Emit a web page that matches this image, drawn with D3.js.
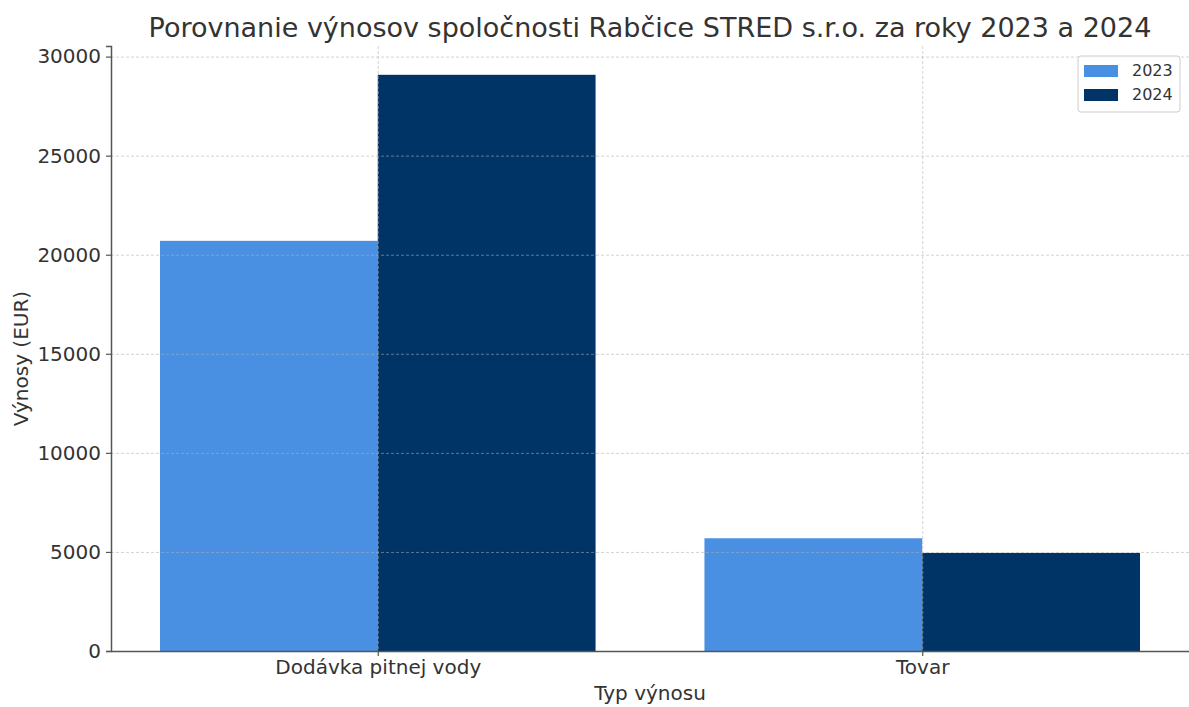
<!DOCTYPE html>
<html>
<head>
<meta charset="utf-8">
<script src="https://cdn.jsdelivr.net/npm/d3@7"></script>
<style>
  body { margin: 0; background: #fff; }
  text { font-family: "DejaVu Sans", sans-serif; fill: #333; }
</style>
</head>
<body>
<div id="chart"></div>
<script>
// data
const categories = ['Dodávka pitnej vody', 'Tovar'];
const years = ['2023', '2024'];
const values2023 = [20700, 5690];
const values2024 = [29080, 4950];
const yTicks = [0, 5000, 10000, 15000, 20000, 25000, 30000];
const colors = ['#4a90e2', '#003366'];

const width = 1189;
const height = 707;
const margin = { top: 46, right: 0, bottom: 56, left: 111 };

const svg = d3.select('#chart')
    .append('svg')
    .attr('width', width)
    .attr('height', height);

const series = years.map((y, i) => ({
    year: y,
    values: i === 0 ? values2023 : values2024
}));

// x in "category units" like matplotlib: bars at i - 0.4 .. i + 0.4
const barW = 0.4;
const x = d3.scaleLinear()
    .domain([-0.49, 1.49])
    .range([margin.left, width - margin.right]);

const yMax = d3.max([...values2023, ...values2024]) * 1.05;
const y = d3.scaleLinear()
    .domain([0, yMax])
    .range([height - margin.bottom, margin.top]);

// bars
series.forEach((s, si) => {
    svg.append('g')
        .selectAll('rect')
        .data(s.values)
        .join('rect')
        .attr('x', (d, i) => x(i - barW + si * barW))
        .attr('width', x(barW) - x(0))
        .attr('y', d => y(d))
        .attr('height', d => y(0) - y(d))
        .attr('fill', colors[si]);
});

// grid on top of bars
const grid = svg.append('g')
    .attr('stroke', '#b0b0b0')
    .attr('stroke-opacity', 0.7)
    .attr('stroke-dasharray', '3,2')
    .attr('stroke-width', 0.8);
grid.selectAll('.hg')
    .data(yTicks)
    .join('line')
    .attr('x1', margin.left)
    .attr('x2', width - margin.right)
    .attr('y1', d => y(d) + 0.5)
    .attr('y2', d => y(d) + 0.5);
grid.selectAll('.vg')
    .data(categories)
    .join('line')
    .attr('x1', (d, i) => x(i) + 0.5)
    .attr('x2', (d, i) => x(i) + 0.5)
    .attr('y1', margin.top)
    .attr('y2', height - margin.bottom);

// axes
const yAxis = d3.axisLeft(y).tickValues(yTicks).tickFormat(d3.format('d')).tickSize(5).tickPadding(5);
const gy = svg.append('g')
    .attr('transform', `translate(${margin.left},0)`)
    .call(yAxis);
gy.select('.domain').attr('stroke', '#555').attr('stroke-width', 1.5);
gy.selectAll('.tick line').attr('stroke', '#555').attr('stroke-width', 1.2);
gy.selectAll('.tick text').style('font-size', '20px').attr('fill', '#333');

const xAxis = d3.axisBottom(x)
    .tickValues([0, 1])
    .tickFormat((d) => categories[d])
    .tickSize(5)
    .tickPadding(4)
    .tickSizeOuter(0);
const gx = svg.append('g')
    .attr('transform', `translate(0,${height - margin.bottom})`)
    .call(xAxis);
gx.select('.domain').attr('stroke', '#555').attr('stroke-width', 1.5);
gx.selectAll('.tick line').attr('stroke', '#555').attr('stroke-width', 1.2);
gx.selectAll('.tick text').style('font-size', '20px').attr('fill', '#333');

// title and labels
svg.append('text')
    .attr('x', 650)
    .attr('y', 37)
    .attr('text-anchor', 'middle')
    .style('font-size', '27px')
    .text('Porovnanie výnosov spoločnosti Rabčice STRED s.r.o. za roky 2023 a 2024');

svg.append('text')
    .attr('x', 650)
    .attr('y', 700)
    .attr('text-anchor', 'middle')
    .style('font-size', '20px')
    .text('Typ výnosu');

svg.append('text')
    .attr('transform', `translate(28,${y(yMax / 2) + 10}) rotate(-90)`)
    .attr('text-anchor', 'middle')
    .style('font-size', '20px')
    .text('Výnosy (EUR)');

// legend
const lg = svg.append('g').attr('transform', 'translate(1078,56)');
lg.append('rect')
    .attr('width', 102)
    .attr('height', 56)
    .attr('rx', 3)
    .attr('fill', '#fff')
    .attr('fill-opacity', 0.8)
    .attr('stroke', '#ccc');
years.forEach((yr, i) => {
    lg.append('rect')
        .attr('x', 6)
        .attr('y', 9 + i * 24)
        .attr('width', 34)
        .attr('height', 12)
        .attr('fill', colors[i]);
    lg.append('text')
        .attr('x', 54)
        .attr('y', 20 + i * 24)
        .style('font-size', '16px')
        .text(yr);
});
</script>
</body>
</html>
